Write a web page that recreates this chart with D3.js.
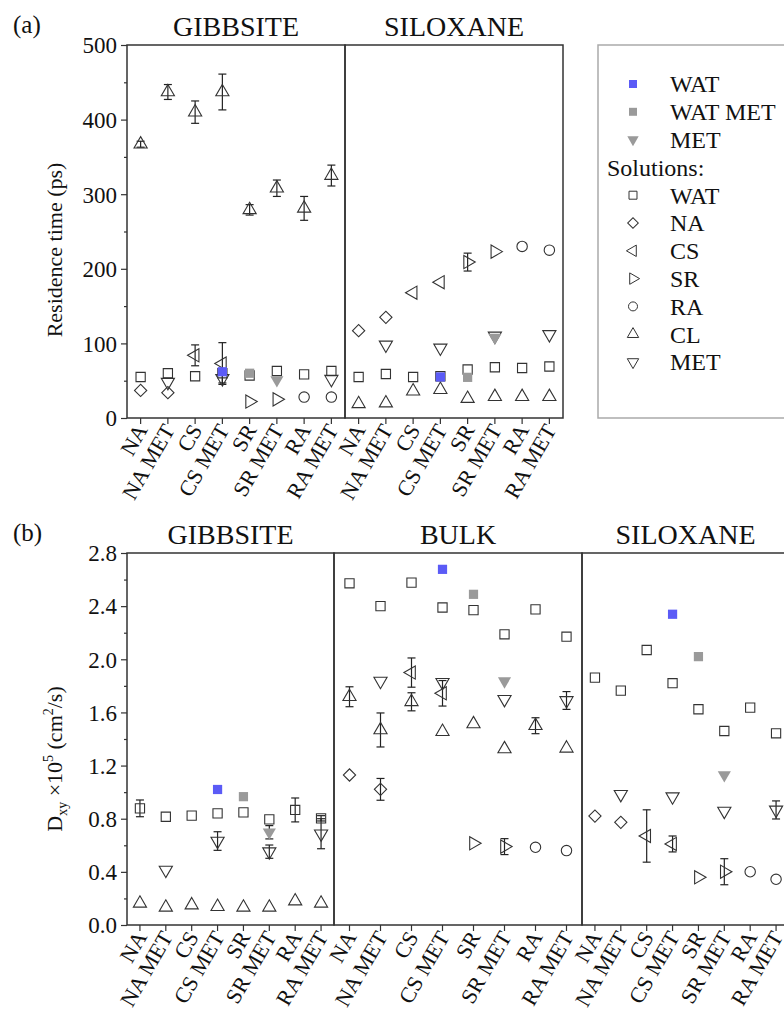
<!DOCTYPE html>
<html>
<head>
<meta charset="utf-8">
<script src="https://cdn.jsdelivr.net/npm/d3@7"></script>
<style>
  body { margin: 0; background: #fff; }
  svg text { fill: #111; }
</style>
</head>
<body>
<svg id="chart" width="784" height="1019"></svg>
<script>
const categories = ["NA", "NA MET", "CS", "CS MET", "SR", "SR MET", "RA", "RA MET"];
const _ = null;

// (a) residence time (ps), gibbsite
const gibA_wat = [55, 60, 56, 60, 57, 63, 58.5, 63];
const gibA_na = [37, 34, _, _, _, _, _, _];
const gibA_cs = [_, _, 84, 73, _, _, _, _];
const gibA_csErr = [_, _, 14, 28, _, _, _, _];
const gibA_sr = [_, _, _, _, 22, 25, _, _];
const gibA_ra = [_, _, _, _, _, _, 28, 28];
const gibA_cl = [367, 437, 410, 437, 279, 308, 281, 325];
const gibA_clErr = [4, 10, 15, 24, 7, 11, 16, 14];
const gibA_met = [_, 48, _, 53, _, _, _, 52];
const gibA_metErr = [_, _, _, 6, _, _, _, _];
const gibA_pureWat = [_, _, _, 62, _, _, _, _];
const gibA_pureWatMet = [_, _, _, _, 60, _, _, _];
const gibA_pureMet = [_, _, _, _, _, 51, _, _];

// (a) residence time (ps), siloxane
const silA_wat = [55, 59, 55, 56, 65, 68, 67, 69];
const silA_na = [117, 135, _, _, _, _, _, _];
const silA_cs = [_, _, 168, 182, _, _, _, _];
const silA_sr = [_, _, _, _, 209, 223, _, _];
const silA_srErr = [_, _, _, _, 12, _, _, _];
const silA_ra = [_, _, _, _, _, _, 230, 225];
const silA_cl = [19, 20, 36, 38, 26, 28.5, 28.5, 28.5];
const silA_met = [_, 98, _, 94, _, 110, _, 112];
const silA_pureWat = [_, _, _, 55, _, _, _, _];
const silA_pureWatMet = [_, _, _, _, 54.5, _, _, _];
const silA_pureMet = [_, _, _, _, _, 108, _, _];

// (b) Dxy x10^5 (cm2/s), gibbsite
const gibB_wat = [0.878, 0.815, 0.823, 0.84, 0.848, 0.795, 0.866, 0.803];
const gibB_watErr = [0.063, _, _, _, _, _, 0.09, 0.02];
const gibB_cl = [0.163, 0.133, 0.15, 0.138, 0.133, 0.133, 0.18, 0.163];
const gibB_met = [_, 0.414, _, 0.632, _, 0.552, _, 0.687];
const gibB_metErr = [_, _, _, 0.07, _, 0.05, _, 0.113];
const gibB_pureWat = [_, _, _, 1.02, _, _, _, _];
const gibB_pureWatMet = [_, _, _, _, 0.966, _, _, _];
const gibB_pureMet = [_, _, _, _, _, 0.698, _, _];
const gibB_pureMetErr = [_, _, _, _, _, 0.05, _, _];

// (b) bulk
const bulkB_wat = [2.572, 2.40, 2.577, 2.39, 2.37, 2.188, 2.376, 2.17];
const bulkB_na = [1.129, 1.021, _, _, _, _, _, _];
const bulkB_naErr = [_, 0.082, _, _, _, _, _, _];
const bulkB_cs = [_, _, 1.90, 1.744, _, _, _, _];
const bulkB_csErr = [_, _, 0.11, 0.096, _, _, _, _];
const bulkB_sr = [_, _, _, _, 0.615, 0.59, _, _];
const bulkB_srErr = [_, _, _, _, _, 0.06, _, _];
const bulkB_ra = [_, _, _, _, _, _, 0.585, 0.56];
const bulkB_cl = [1.718, 1.468, 1.68, 1.455, 1.513, 1.325, 1.50, 1.33];
const bulkB_clErr = [0.075, 0.128, 0.068, _, _, _, 0.06, _];
const bulkB_met = [_, 1.836, _, 1.827, _, 1.699, _, 1.69];
const bulkB_metErr = [_, _, _, _, _, _, _, 0.067];
const bulkB_pureWat = [_, _, _, 2.677, _, _, _, _];
const bulkB_pureWatMet = [_, _, _, _, 2.489, _, _, _];
const bulkB_pureMet = [_, _, _, _, _, 1.836, _, _];

// (b) siloxane
const silB_wat = [1.862, 1.764, 2.07, 1.82, 1.624, 1.46, 1.636, 1.443];
const silB_na = [0.82, 0.773, _, _, _, _, _, _];
const silB_cs = [_, _, 0.67, 0.61, _, _, _, _];
const silB_csErr = [_, _, 0.197, 0.06, _, _, _, _];
const silB_sr = [_, _, _, _, 0.359, 0.401, _, _];
const silB_srErr = [_, _, _, _, _, 0.098, _, _];
const silB_ra = [_, _, _, _, _, _, 0.401, 0.344];
const silB_met = [_, 0.984, _, 0.966, _, 0.858, _, 0.866];
const silB_metErr = [_, _, _, _, _, _, _, 0.068];
const silB_pureWat = [_, _, _, 2.339, _, _, _, _];
const silB_pureWatMet = [_, _, _, _, 2.02, _, _, _];
const silB_pureMet = [_, _, _, _, _, 1.129, _, _];

const legendLabels = ["WAT", "WAT MET", "MET", "Solutions:", "WAT", "NA", "CS", "SR", "RA", "CL", "MET"];

const serif = '"Liberation Serif", "DejaVu Serif", "Times New Roman", Times, serif';
const blue = "#5b5bf6";
const gray = "#9a9a9a";
const ink = "#333";

// draw order: open solution markers first, pure liquids on top
const seriesStyle = [
  {key: "wat", shape: "square", fill: "none"},
  {key: "na", shape: "diamond", fill: "none"},
  {key: "cs", shape: "left", fill: "none"},
  {key: "sr", shape: "right", fill: "none"},
  {key: "ra", shape: "circle", fill: "none"},
  {key: "cl", shape: "up", fill: "none"},
  {key: "met", shape: "down", fill: "none"},
  {key: "pureWat", shape: "square", fill: blue},
  {key: "pureWatMet", shape: "square", fill: gray},
  {key: "pureMet", shape: "down", fill: gray}
];

function symbolPath(shape, small) {
  let k = small ? 0.75 : 1;
  if (shape == "square") return d3.symbol(d3.symbolSquare, 85 * k)();
  if (shape == "diamond") return d3.symbol(d3.symbolSquare, 75 * k)();
  if (shape == "circle") return d3.symbol(d3.symbolCircle, 85 * k)();
  return d3.symbol(d3.symbolTriangle, 75 * k)();
}
function symbolRot(shape) {
  return {diamond: 45, down: 180, left: -90, right: 90}[shape] || 0;
}

let svg = d3.select("#chart").attr("font-family", serif);

function drawGroup(cfg) {
  let y = d3.scaleLinear().domain(cfg.domain).range([cfg.bottom, cfg.top]);

  cfg.panels.forEach(p => {
    let x = d3.scaleBand().domain(categories).range([p.x0, p.x1]);

    // frame
    svg.append("rect")
      .attr("x", p.x0).attr("y", cfg.top)
      .attr("width", p.x1 - p.x0).attr("height", cfg.bottom - cfg.top)
      .attr("fill", "none").attr("stroke", ink).attr("stroke-width", 1.5);

    svg.append("text")
      .attr("x", (p.x0 + p.x1) / 2).attr("y", cfg.top - 9)
      .attr("text-anchor", "middle").attr("font-size", 28)
      .attr("font-family", serif)
      .text(p.title);

    // x axis
    let xa = svg.append("g")
      .attr("transform", "translate(0," + cfg.bottom + ")")
      .call(d3.axisBottom(x).tickSize(6).tickSizeOuter(0))
      .attr("font-family", serif);
    xa.select(".domain").remove();
    xa.selectAll("line").attr("stroke", ink).attr("stroke-width", 1.2);
    xa.selectAll("text")
      .attr("x", 0).attr("y", 0).attr("dy", "0.35em")
      .attr("transform", "translate(1,8) rotate(-60)")
      .attr("text-anchor", "end")
      .attr("font-size", 22)
      .attr("font-family", serif)
      .attr("fill", "#111");

    let cx = d => x(d) + x.bandwidth() / 2;

    // error bars
    Object.keys(p.err).forEach(k => {
      let vals = p.data[k], errs = p.err[k];
      categories.forEach((c, i) => {
        if (vals[i] == null || errs[i] == null) return;
        let g = svg.append("g").attr("stroke", "#222").attr("stroke-width", 1.2);
        let lo = y(vals[i] - errs[i]), hi = y(vals[i] + errs[i]);
        g.append("line").attr("x1", cx(c)).attr("x2", cx(c)).attr("y1", lo).attr("y2", hi);
        g.append("line").attr("x1", cx(c) - 4).attr("x2", cx(c) + 4).attr("y1", lo).attr("y2", lo);
        g.append("line").attr("x1", cx(c) - 4).attr("x2", cx(c) + 4).attr("y1", hi).attr("y2", hi);
      });
    });

    // markers
    seriesStyle.forEach(s => {
      let vals = p.data[s.key];
      if (!vals) return;
      let pts = categories.map((c, i) => ({c: c, v: vals[i]})).filter(d => d.v != null);
      svg.selectAll(null).data(pts).enter().append("path")
        .attr("d", symbolPath(s.shape))
        .attr("transform", d => "translate(" + cx(d.c) + "," + y(d.v) + ") rotate(" + symbolRot(s.shape) + ")")
        .attr("fill", s.fill)
        .attr("stroke", s.fill == "none" ? ink : "none")
        .attr("stroke-width", 1.1);
    });
  });

  // left axis with minor ticks
  let minor = svg.append("g").attr("transform", "translate(" + cfg.panels[0].x0 + ",0)")
    .call(d3.axisLeft(y).tickValues(cfg.minor).tickSize(3).tickFormat(""));
  minor.select(".domain").remove();
  let major = svg.append("g").attr("transform", "translate(" + cfg.panels[0].x0 + ",0)")
    .call(d3.axisLeft(y).tickValues(cfg.major).tickSize(6).tickSizeOuter(0).tickFormat(cfg.fmt))
    .attr("font-family", serif);
  major.select(".domain").remove();
  svg.selectAll(".tick line").attr("stroke", ink).attr("stroke-width", 1.2);
  major.selectAll("text").attr("font-size", 23).attr("dx", "-1").attr("dy", "0.34em")
    .attr("font-family", serif).attr("fill", "#111");

  svg.append("text")
    .attr("x", 13).attr("y", cfg.top - 12)
    .attr("font-size", 25).attr("font-family", serif)
    .text(cfg.tag);
}

drawGroup({
  tag: "(a)", top: 45, bottom: 418, domain: [0, 500],
  major: [0, 100, 200, 300, 400, 500], minor: [50, 150, 250, 350, 450],
  fmt: d3.format("d"),
  panels: [
    {title: "GIBBSITE", x0: 127, x1: 345,
     data: {wat: gibA_wat, na: gibA_na, cs: gibA_cs, sr: gibA_sr, ra: gibA_ra, cl: gibA_cl, met: gibA_met,
            pureWat: gibA_pureWat, pureWatMet: gibA_pureWatMet, pureMet: gibA_pureMet},
     err: {cs: gibA_csErr, cl: gibA_clErr, met: gibA_metErr}},
    {title: "SILOXANE", x0: 345, x1: 563,
     data: {wat: silA_wat, na: silA_na, cs: silA_cs, sr: silA_sr, ra: silA_ra, cl: silA_cl, met: silA_met,
            pureWat: silA_pureWat, pureWatMet: silA_pureWatMet, pureMet: silA_pureMet},
     err: {sr: silA_srErr}}
  ]
});

drawGroup({
  tag: "(b)", top: 553, bottom: 925, domain: [0, 2.8],
  major: [0, 0.4, 0.8, 1.2, 1.6, 2.0, 2.4, 2.8], minor: [0.2, 0.6, 1.0, 1.4, 1.8, 2.2, 2.6],
  fmt: d3.format(".1f"),
  panels: [
    {title: "GIBBSITE", x0: 127, x1: 334,
     data: {wat: gibB_wat, cl: gibB_cl, met: gibB_met,
            pureWat: gibB_pureWat, pureWatMet: gibB_pureWatMet, pureMet: gibB_pureMet},
     err: {wat: gibB_watErr, met: gibB_metErr, pureMet: gibB_pureMetErr}},
    {title: "BULK", x0: 334, x1: 582,
     data: {wat: bulkB_wat, na: bulkB_na, cs: bulkB_cs, sr: bulkB_sr, ra: bulkB_ra, cl: bulkB_cl, met: bulkB_met,
            pureWat: bulkB_pureWat, pureWatMet: bulkB_pureWatMet, pureMet: bulkB_pureMet},
     err: {na: bulkB_naErr, cs: bulkB_csErr, sr: bulkB_srErr, cl: bulkB_clErr, met: bulkB_metErr}},
    {title: "SILOXANE", x0: 582, x1: 789,
     data: {wat: silB_wat, na: silB_na, cs: silB_cs, sr: silB_sr, ra: silB_ra, met: silB_met,
            pureWat: silB_pureWat, pureWatMet: silB_pureWatMet, pureMet: silB_pureMet},
     err: {cs: silB_csErr, sr: silB_srErr, met: silB_metErr}}
  ]
});

// y axis titles
svg.append("text")
  .attr("transform", "translate(62,250) rotate(-90)")
  .attr("text-anchor", "middle").attr("font-size", 22).attr("font-family", serif)
  .text("Residence time (ps)");

let yt = svg.append("text")
  .attr("transform", "translate(62,759) rotate(-90)")
  .attr("text-anchor", "middle").attr("font-size", 22).attr("font-family", serif);
yt.append("tspan").text("D");
yt.append("tspan").attr("font-size", 14).attr("dy", 5).text("xy");
yt.append("tspan").attr("dy", -5).text(" \u00d710");
yt.append("tspan").attr("font-size", 14).attr("dy", -9).text("5");
yt.append("tspan").attr("dy", 9).text(" (cm");
yt.append("tspan").attr("font-size", 14).attr("dy", -9).text("2");
yt.append("tspan").attr("dy", 9).text("/s)");

// legend
svg.append("rect")
  .attr("x", 598).attr("y", 45).attr("width", 220).attr("height", 373)
  .attr("fill", "none").attr("stroke", "#aaa").attr("stroke-width", 1.5);

let legendShapes = [
  {shape: "square", fill: blue}, {shape: "square", fill: gray}, {shape: "down", fill: gray}, null,
  {shape: "square", fill: "none"}, {shape: "diamond", fill: "none"}, {shape: "left", fill: "none"},
  {shape: "right", fill: "none"}, {shape: "circle", fill: "none"}, {shape: "up", fill: "none"},
  {shape: "down", fill: "none"}
];
let ly = d3.scaleLinear().domain([0, 10]).range([84, 362]);
legendLabels.forEach((lab, i) => {
  let s = legendShapes[i];
  if (s) {
    svg.append("path")
      .attr("d", symbolPath(s.shape, true))
      .attr("transform", "translate(633," + ly(i) + ") rotate(" + symbolRot(s.shape) + ")")
      .attr("fill", s.fill)
      .attr("stroke", s.fill == "none" ? ink : "none")
      .attr("stroke-width", 1);
  }
  svg.append("text")
    .attr("x", s ? 670 : 607).attr("y", ly(i)).attr("dy", "0.35em")
    .attr("font-size", 24).attr("font-family", serif)
    .text(lab);
});
</script>
</body>
</html>
